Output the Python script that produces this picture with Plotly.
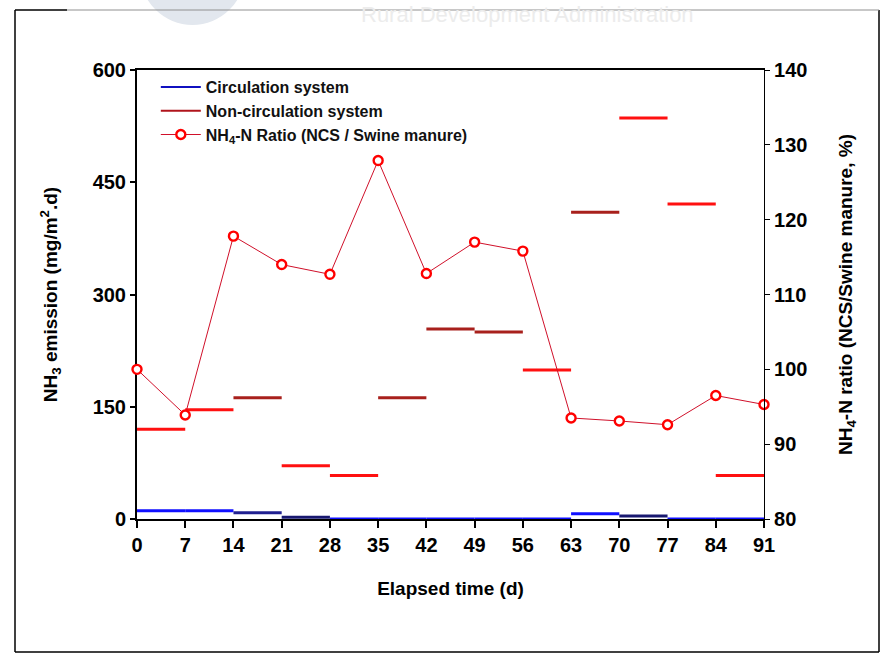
import plotly.graph_objects as go

# ---- data ----
days = [0, 7, 14, 21, 28, 35, 42, 49, 56, 63, 70, 77, 84, 91]
circ_emission = [11, 11, 8.5, 2.3, 0, 0, 0, 0, 0, 7, 4, 0, 0]          # per 7-day period
noncirc_emission = [120, 146, 162, 71, 58, 162, 254, 250, 199, 410, 536, 421, 58]
nh4_ratio = [100.0, 93.9, 117.8, 114.0, 112.7, 127.9, 112.8, 117.0, 115.8, 93.5, 93.1, 92.6, 96.5, 95.3]

# ---- styles ----
noncirc_colors = ["#ff1010", "#ff1010", "#a8201c", "#ff1010", "#ff1010", "#a8201c", "#a8201c",
                  "#a8201c", "#ff1010", "#a8201c", "#ff1010", "#ff1010", "#ff1010"]
circ_colors = ["#1010ff", "#1010ff", "#202090", "#181870", "#1010ff", "#1010ff", "#1010ff",
               "#1010ff", "#1010ff", "#1010ff", "#181870", "#1010ff", "#1010ff"]
FONT = "Liberation Sans, Arial, sans-serif"

fig = go.Figure()


def add_steps(values, colors, yaxis="y"):
    groups = {}
    for i, v in enumerate(values):
        xs, ys = groups.setdefault(colors[i], ([], []))
        xs += [days[i], days[i + 1], None]
        ys += [v, v, None]
    for c, (xs, ys) in groups.items():
        fig.add_trace(go.Scatter(x=xs, y=ys, mode="lines", yaxis=yaxis,
                                 line=dict(color=c, width=3), showlegend=False,
                                 hoverinfo="skip"))


add_steps(circ_emission, circ_colors)
add_steps(noncirc_emission, noncirc_colors)

# legend entries
fig.add_trace(go.Scatter(x=[None], y=[None], mode="lines", name="Circulation system",
                         line=dict(color="#1010c0", width=2)))
fig.add_trace(go.Scatter(x=[None], y=[None], mode="lines", name="Non-circulation system",
                         line=dict(color="#b0141c", width=2)))

fig.add_trace(go.Scatter(
    x=days, y=nh4_ratio, yaxis="y2", mode="lines+markers",
    name="NH<sub>4</sub>-N Ratio (NCS / Swine manure)",
    line=dict(color="#d0102a", width=1),
    marker=dict(symbol="circle", size=9, color="white",
                line=dict(color="#ff0000", width=2.4)),
    cliponaxis=False))

# ---- layout ----
def px_x(px):
    return (px - 137) / 627


def px_y(py):
    return (519 - py) / 449


shapes = [
    # watermark logo (faint)
    dict(type="circle", xref="paper", yref="paper", layer="below",
         x0=px_x(140), x1=px_x(245), y0=px_y(25), y1=px_y(-80),
         fillcolor="#e2e7ee", line=dict(color="#e2e7ee", width=0)),
    # outer frame
    dict(type="line", xref="paper", yref="paper", x0=px_x(15), x1=px_x(15), y0=px_y(10), y1=px_y(652),
         line=dict(color="black", width=1.5)),
    dict(type="line", xref="paper", yref="paper", x0=px_x(15), x1=px_x(879), y0=px_y(652), y1=px_y(652),
         line=dict(color="black", width=1.5)),
    dict(type="line", xref="paper", yref="paper", x0=px_x(879), x1=px_x(879), y0=px_y(10), y1=px_y(652),
         line=dict(color="black", width=1.5)),
    dict(type="line", xref="paper", yref="paper", x0=px_x(67), x1=px_x(879), y0=px_y(10), y1=px_y(10),
         line=dict(color="#909090", width=1)),
    dict(type="line", xref="paper", yref="paper", x0=px_x(15), x1=px_x(67), y0=px_y(10), y1=px_y(10),
         line=dict(color="black", width=1.5)),
]

fig.update_layout(
    width=891, height=664,
    margin=dict(l=137, r=127, t=70, b=145, autoexpand=False),
    paper_bgcolor="white", plot_bgcolor="white",
    font=dict(family=FONT, color="black"),
    showlegend=True,
    legend=dict(x=0.03, y=1.0, xanchor="left", yanchor="top",
                bgcolor="rgba(0,0,0,0)", borderwidth=0,
                font=dict(family=FONT, size=16, weight="bold", color="#111111"),
                tracegroupgap=0, itemwidth=40),
    xaxis=dict(range=[0, 91], tick0=0, dtick=7, showgrid=False, zeroline=False,
               showline=True, linecolor="black", linewidth=2, mirror=True,
               ticks="outside", ticklen=7, tickwidth=2, tickcolor="black",
               tickfont=dict(family=FONT, size=20, weight="bold"),
               layer="below traces",
               title=dict(text="Elapsed time (d)", standoff=27,
                          font=dict(family=FONT, size=19, weight="bold"))),
    yaxis=dict(range=[0, 600], tick0=0, dtick=150, showgrid=False, zeroline=False,
               showline=True, linecolor="black", linewidth=2,
               ticks="outside", ticklen=5, tickwidth=1.5, tickcolor="black",
               tickfont=dict(family=FONT, size=20, weight="bold"),
               layer="below traces",
               title=dict(text="NH<sub>3</sub> emission (mg/m<sup>2</sup>.d)", standoff=30,
                          font=dict(family=FONT, size=19, weight="bold"))),
    yaxis2=dict(range=[80, 140], tick0=80, dtick=10, overlaying="y", side="right",
                showgrid=False, zeroline=False,
                showline=True, linecolor="black", linewidth=1.2,
                ticks="outside", ticklen=5, tickwidth=1, tickcolor="black",
                tickfont=dict(family=FONT, size=20, weight="bold"),
                title=dict(text="NH<sub>4</sub>-N ratio (NCS/Swine manure, %)", standoff=32,
                           font=dict(family=FONT, size=19, weight="bold"))),
    shapes=shapes,
    annotations=[dict(text="Rural Development Administration", xref="paper", yref="paper",
                      x=px_x(527), y=px_y(0), xanchor="center", yanchor="top",
                      showarrow=False, font=dict(family="Liberation Sans", size=22, color="#ececec"))],
)

fig.write_html("out.html")
